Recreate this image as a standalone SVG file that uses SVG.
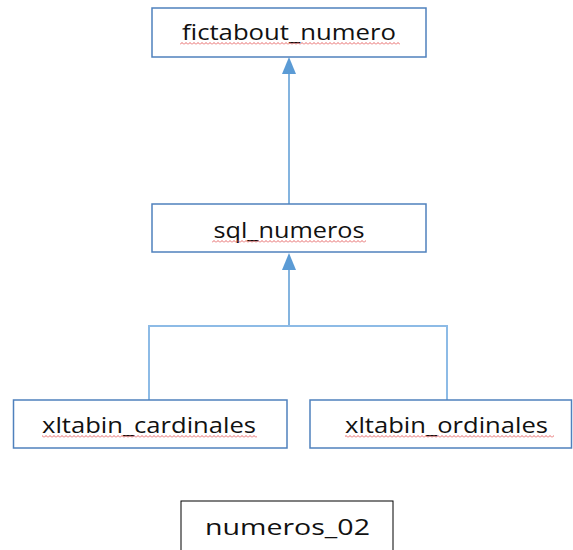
<svg xmlns="http://www.w3.org/2000/svg" width="573" height="550" viewBox="0 0 573 550">
<defs>
<style>
.box{fill:#fff;stroke:#4f81bd;stroke-width:1.5}
.box2{fill:#fff;stroke:#000;stroke-width:1}
.lbl{font-family:"Open Sans","Liberation Sans",sans-serif;font-size:22px;fill:#111;text-anchor:middle}
.con{fill:none;stroke:#5b9bd5;stroke-width:1.5}
.con2{fill:none;stroke:#8dbbe6;stroke-width:2}
.head{fill:#5b9bd5}
.sq{fill:url(#wave)}
</style>
<pattern id="wave" width="4" height="3" patternUnits="userSpaceOnUse">
<path d="M0,2.5 L2,0.5 L4,2.5" fill="none" stroke="#e04040" stroke-width="0.8"/>
</pattern>
</defs>
<g id="connectors">
<line class="con" x1="289" y1="72" x2="289" y2="204"/>
<polygon class="head" points="289,57 282,74 296,74"/>
<line class="con" x1="289" y1="268" x2="289" y2="326"/>
<polygon class="head" points="289,253 282,270 296,270"/>
<polyline class="con2" points="149,400 149,326 447,326 447,400"/>
</g>
<g id="fictabout_numero">
<rect class="box" x="152" y="8" width="274" height="49"/>
<text class="lbl" x="289" y="40" textLength="214" lengthAdjust="spacingAndGlyphs">fictabout_numero</text>
<rect class="sq" x="180" y="42" width="220" height="3"/>
</g>
<g id="sql_numeros">
<rect class="box" x="152" y="204" width="274" height="48"/>
<text class="lbl" x="289" y="238" textLength="151" lengthAdjust="spacingAndGlyphs">sql_numeros</text>
<rect class="sq" x="212" y="240" width="154" height="3"/>
</g>
<g id="xltabin_cardinales">
<rect class="box" x="13.5" y="400" width="273.5" height="48"/>
<text class="lbl" x="149" y="433" textLength="214" lengthAdjust="spacingAndGlyphs">xltabin_cardinales</text>
<rect class="sq" x="42" y="435" width="215" height="3"/>
</g>
<g id="xltabin_ordinales">
<rect class="box" x="310" y="400" width="261.5" height="48"/>
<text class="lbl" x="446.5" y="433" textLength="203" lengthAdjust="spacingAndGlyphs">xltabin_ordinales</text>
<rect class="sq" x="345" y="435" width="209" height="3"/>
</g>
<g id="numeros_02">
<rect class="box2" x="181" y="501" width="212" height="60"/>
<text class="lbl" x="287.5" y="535" textLength="165" lengthAdjust="spacingAndGlyphs">numeros_02</text>
</g>
</svg>
